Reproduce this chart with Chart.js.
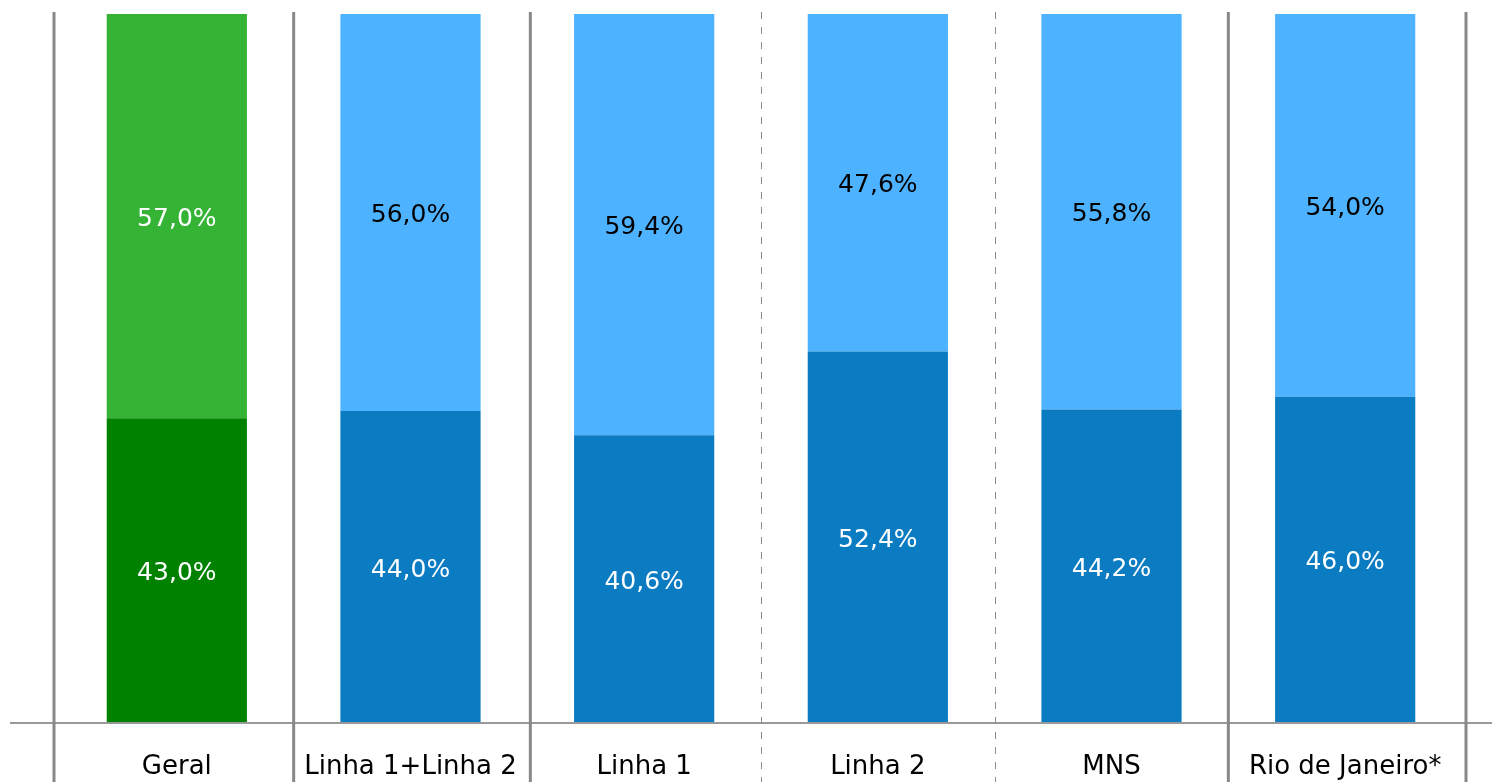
<!DOCTYPE html>
<html>
<head>
<meta charset="utf-8">
<script src="https://cdn.jsdelivr.net/npm/chart.js@4"></script>
<style>
  html, body { margin: 0; padding: 0; background: #fff; }
  #wrap { width: 1492px; height: 782px; }
</style>
</head>
<body>
<div id="wrap"><canvas id="grafica"></canvas></div>
<script>
const categorias = ["Geral", "Linha 1+Linha 2", "Linha 1", "Linha 2", "MNS", "Rio de Janeiro*"];
const valoresBase = [43.0, 44.0, 40.6, 52.4, 44.2, 46.0];
const valoresTopo = [57.0, 56.0, 59.4, 47.6, 55.8, 54.0];

// cores por barra (a primeira e verde)
const corBase = ["#008200", "#0b7bc2", "#0b7bc2", "#0b7bc2", "#0b7bc2", "#0b7bc2"];
const corTopo = ["#34b334", "#4db2ff", "#4db2ff", "#4db2ff", "#4db2ff", "#4db2ff"];
const corTextoTopo = ["#ffffff", "#000000", "#000000", "#000000", "#000000", "#000000"];

// separadores tracejados entre Linha 1 | Linha 2 | MNS
const tracejado = [false, false, false, true, true, false, false];
// as linhas das pontas ficam um pouco para fora
const desvio = [-6, 0, 3, 0, 0, 0, 4];

const formato = (v) => v.toFixed(1).replace(".", ",") + "%";

const linhasPlugin = {
  id: "linhas",
  afterDatasetsDraw(chart) {
    const { ctx, chartArea, scales } = chart;
    const x = scales.x;
    ctx.save();
    // linha horizontal da base
    ctx.strokeStyle = "#999";
    ctx.lineWidth = 2;
    ctx.beginPath();
    ctx.moveTo(10, chartArea.bottom);
    ctx.lineTo(chart.width, chartArea.bottom);
    ctx.stroke();
    for (let i = 0; i <= categorias.length; i++) {
      let px = x.getPixelForValue(i - 0.5) + desvio[i];
      ctx.beginPath();
      if (tracejado[i]) {
        px = Math.round(px) + 0.5;
        ctx.setLineDash([7, 8]);
        ctx.lineWidth = 1;
        ctx.strokeStyle = "#8c8c8c";
      } else {
        ctx.setLineDash([]);
        ctx.lineWidth = 3;
        ctx.strokeStyle = "#888";
      }
      ctx.moveTo(px, chartArea.top - 2);
      ctx.lineTo(px, chart.height);
      ctx.stroke();
    }
    ctx.restore();
  },
  afterDraw(chart) {
    const { ctx } = chart;
    ctx.save();
    ctx.font = "25px 'DejaVu Sans'";
    ctx.textAlign = "center";
    ctx.textBaseline = "middle";
    chart.data.datasets.forEach((ds, d) => {
      chart.getDatasetMeta(d).data.forEach((bar, i) => {
        const p = bar.getCenterPoint();
        ctx.fillStyle = d === 0 ? "#ffffff" : corTextoTopo[i];
        ctx.fillText(formato(ds.data[i]), p.x, p.y + 3);
      });
    });
    ctx.restore();
  }
};

new Chart(document.getElementById("grafica"), {
  type: "bar",
  data: {
    labels: categorias,
    datasets: [
      { data: valoresBase, backgroundColor: corBase, categoryPercentage: 1, barPercentage: 0.6 },
      { data: valoresTopo, backgroundColor: corTopo, categoryPercentage: 1, barPercentage: 0.6 }
    ]
  },
  options: {
    responsive: true,
    maintainAspectRatio: false,
    animation: false,
    layout: { padding: { left: 60, right: 30, top: 14, bottom: 0 } },
    plugins: { legend: { display: false }, tooltip: { enabled: false } },
    scales: {
      x: {
        stacked: true,
        grid: { display: false, drawTicks: false },
        border: { display: false },
        ticks: { color: "#000", padding: 29, font: { family: "DejaVu Sans", size: 26 } },
        afterFit(scale) { scale.height = 59; }
      },
      y: {
        stacked: true,
        display: false,
        min: 0,
        max: 100
      }
    }
  },
  plugins: [linhasPlugin]
});
</script>
</body>
</html>
